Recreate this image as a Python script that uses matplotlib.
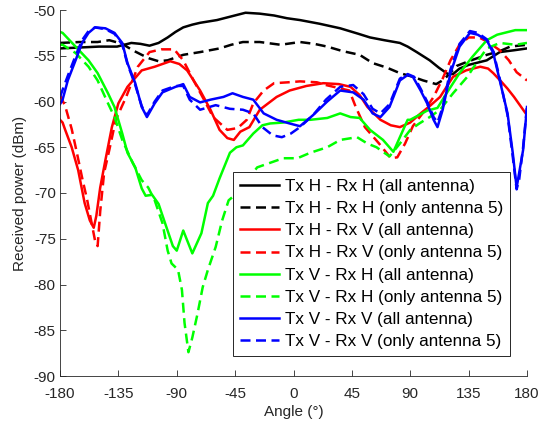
import matplotlib
matplotlib.use("Agg")
import matplotlib.pyplot as plt

plt.rcParams["font.family"] = ["Liberation Sans", "DejaVu Sans"]
plt.rcParams["axes.unicode_minus"] = False

# Tx H - Rx H (all antenna)
hh_all_ang = [-180, -165, -150, -136, -125, -118, -111, -104, -97, -91, -85, -78, -72, -59, -48,
              -37, -26, -15, -5, 5, 20, 36, 50, 59, 70, 82, 88, 95, 105, 112, 119, 123, 128,
              135, 149, 159, 170, 180]
hh_all_db = [-54.2, -54.1, -54.0, -54.0, -53.6, -53.7, -53.9, -53.6, -53.0, -52.4, -51.9, -51.6,
             -51.4, -51.1, -50.7, -50.3, -50.4, -50.6, -50.9, -51.1, -51.5, -52.0, -52.6, -53.0,
             -53.3, -53.6, -54.0, -54.6, -55.5, -56.3, -57.0, -57.0, -56.4, -56.0, -55.5, -54.6,
             -54.4, -54.2]

# Tx H - Rx H (only antenna 5)
hh_a5_ang = [-180, -165, -151, -142, -132, -124, -117, -111, -104, -97, -91, -85, -72, -57, -48,
             -39, -26, -10, 5, 16, 26, 38, 51, 61, 72, 82, 92, 100, 110, 116, 126, 135, 149,
             159, 167, 180]
hh_a5_db = [-53.6, -53.5, -53.5, -53.3, -53.7, -54.4, -54.9, -55.3, -55.6, -55.5, -55.2, -54.9,
            -54.6, -54.2, -53.8, -53.5, -53.5, -53.8, -53.5, -53.7, -54.0, -54.5, -54.9, -55.8,
            -56.3, -56.9, -57.3, -57.7, -58.1, -57.6, -56.1, -55.6, -54.9, -54.5, -54.0, -53.8]

# Tx H - Rx V (all antenna)
hv_all_ang = [-180, -178, -176, -171, -166, -161, -157, -154, -152, -149, -145, -140, -135, -128,
              -117, -107, -95, -88, -82, -72, -64, -57, -51, -46, -41, -34, -26, -13, -3, 10, 23,
              35, 44, 51, 57, 67, 75, 82, 90, 98, 105, 113, 123, 133, 144, 150, 154, 160, 165,
              170, 175, 180]
hv_all_db = [-62.0, -62.3, -63.1, -65.0, -67.5, -71.1, -73.0, -73.8, -72.5, -69.4, -66.4, -62.8,
             -60.2, -58.4, -56.6, -56.2, -55.6, -55.9, -56.6, -58.8, -60.9, -63.1, -64.0, -64.2,
             -63.3, -62.8, -60.9, -59.5, -58.8, -58.3, -58.0, -58.1, -58.4, -59.3, -60.6, -62.0,
             -62.6, -62.8, -62.3, -61.3, -60.5, -59.5, -57.3, -56.6, -56.2, -56.4, -56.9, -57.8,
             -58.6, -59.5, -60.5, -61.5]

# Tx H - Rx V (only antenna 5)
hv_a5_ang = [-180, -176, -171, -167, -163, -159, -156, -153, -151, -149, -146, -142, -137, -129,
             -120, -111, -102, -92, -85, -77, -69, -62, -51, -43, -36, -31, -23, -15, -4, 5, 18,
             25, 43, 48, 55, 66, 75, 80, 86, 92, 100, 108, 115, 121, 128, 135, 143, 150, 159,
             166, 172, 180]
hv_a5_db = [-59.3, -60.5, -63.0, -65.6, -68.3, -70.8, -73.0, -75.2, -75.8, -72.0, -67.8, -65.3,
            -62.0, -59.5, -56.2, -54.6, -54.3, -54.3, -55.5, -57.7, -59.8, -61.7, -63.1, -62.9,
            -62.0, -60.2, -58.8, -58.0, -57.9, -57.8, -57.9, -58.2, -58.8, -60.6, -62.8, -64.6,
            -66.2, -66.1, -64.6, -62.7, -61.2, -59.5, -57.5, -55.5, -53.8, -53.0, -53.0, -53.5,
            -54.4, -55.5, -56.8, -57.7]

# Tx V - Rx H (all antenna)
vh_all_ang = [-180, -178, -168, -158, -151, -143, -138, -132, -128, -122, -117, -114, -109, -104,
              -99, -93, -90, -85, -78, -71, -66, -62, -57, -49, -44, -39, -31, -24, -18, -8, 4,
              13, 26, 36, 44, 51, 59, 69, 77, 82, 88, 90, 103, 111, 118, 128, 138, 149, 157,
              171, 180]
vh_all_db = [-52.4, -52.5, -54.0, -55.5, -56.9, -59.1, -60.6, -63.5, -65.6, -67.2, -69.5, -70.3,
             -70.2, -71.2, -73.3, -75.8, -76.3, -74.1, -76.6, -74.4, -71.1, -70.3, -68.4, -65.6,
             -65.0, -64.8, -63.5, -62.6, -62.4, -62.3, -62.0, -62.0, -61.8, -61.3, -61.7, -61.8,
             -63.1, -64.2, -65.5, -63.9, -62.0, -62.0, -61.0, -60.7, -59.1, -56.9, -55.1, -53.3,
             -52.7, -52.2, -52.2]

# Tx V - Rx H (only antenna 5)
vh_a5_ang = [-180, -178, -168, -158, -151, -143, -138, -132, -124, -117, -112, -107, -101, -97,
             -94, -89, -86, -84, -81, -78, -74, -70, -66, -60, -55, -50, -45, -40, -28, -18, -8,
             3, 13, 26, 36, 49, 57, 64, 74, 82, 90, 97, 105, 113, 123, 134, 141, 149, 159, 171,
             180]
vh_a5_db = [-53.8, -53.8, -54.7, -56.2, -57.7, -60.2, -61.7, -64.2, -66.7, -68.6, -69.4, -70.8,
            -73.3, -76.3, -77.7, -78.4, -80.6, -84.2, -87.4, -85.8, -83.2, -80.3, -78.4, -75.9,
            -73.0, -70.8, -70.2, -69.4, -67.2, -66.7, -66.2, -66.2, -65.6, -65.0, -64.2, -63.9,
            -64.6, -65.0, -66.0, -64.6, -63.1, -62.4, -61.7, -60.9, -59.1, -57.3, -55.8, -54.2,
            -53.6, -53.8, -53.6]

# Tx V - Rx V (all antenna)
vv_all_ang = [-180, -178, -174, -168, -163, -158, -153, -145, -138, -132, -128, -122, -117, -113,
              -107, -101, -91, -85, -80, -72, -64, -54, -47, -39, -31, -23, -13, -3, 5, 15, 26,
              36, 46, 54, 61, 67, 74, 82, 88, 92, 98, 103, 108, 111, 115, 121, 128, 136, 142,
              149, 154, 159, 165, 169, 172, 177, 180]
vv_all_db = [-60.3, -59.8, -57.7, -55.5, -53.6, -52.5, -51.9, -52.0, -52.5, -53.6, -55.8, -58.0,
             -60.6, -61.7, -60.2, -59.0, -58.4, -58.1, -59.5, -60.1, -59.8, -59.5, -59.1, -59.5,
             -59.8, -61.3, -62.0, -62.4, -62.7, -61.5, -60.0, -58.8, -59.0, -59.8, -61.3, -61.7,
             -60.6, -57.7, -57.1, -57.3, -58.8, -60.2, -62.0, -62.8, -60.9, -56.9, -54.0, -52.5,
             -52.7, -53.3, -54.7, -57.7, -61.3, -65.6, -69.4, -65.3, -60.6]

# Tx V - Rx V (only antenna 5)
vv_a5_ang = [-180, -174, -168, -163, -158, -153, -145, -138, -132, -128, -122, -117, -113, -107,
             -101, -91, -85, -80, -72, -60, -49, -39, -31, -24, -16, -9, -2, 5, 15, 25, 36, 46,
             54, 61, 67, 74, 82, 88, 93, 98, 103, 108, 111, 115, 121, 128, 136, 142, 149, 154,
             159, 165, 169, 172, 174, 177, 180]
vv_a5_db = [-59.5, -57.2, -55.0, -53.3, -52.3, -51.9, -52.1, -52.6, -53.8, -55.9, -58.2, -60.5,
            -61.5, -60.0, -58.8, -58.3, -58.3, -59.8, -60.9, -60.4, -60.8, -60.9, -61.3, -62.8,
            -63.7, -63.9, -63.5, -62.8, -61.5, -59.8, -58.4, -58.2, -59.2, -60.8, -61.3, -60.3,
            -57.5, -57.0, -57.3, -58.6, -60.0, -61.7, -62.3, -60.6, -56.5, -53.7, -52.3, -52.5,
            -53.2, -54.5, -57.5, -61.5, -66.0, -69.6, -68.5, -65.0, -60.5]

labels = ["Tx H - Rx H (all antenna)", "Tx H - Rx H (only antenna 5)",
          "Tx H - Rx V (all antenna)", "Tx H - Rx V (only antenna 5)",
          "Tx V - Rx H (all antenna)", "Tx V - Rx H (only antenna 5)",
          "Tx V - Rx V (all antenna)", "Tx V - Rx V (only antenna 5)"]
xticks = [-180, -135, -90, -45, 0, 45, 90, 135, 180]
yticks = [-90, -85, -80, -75, -70, -65, -60, -55, -50]

series = [(hh_all_ang, hh_all_db), (hh_a5_ang, hh_a5_db),
          (hv_all_ang, hv_all_db), (hv_a5_ang, hv_a5_db),
          (vh_all_ang, vh_all_db), (vh_a5_ang, vh_a5_db),
          (vv_all_ang, vv_all_db), (vv_a5_ang, vv_a5_db)]
colors = ["k", "k", "r", "r", "#00ff00", "#00ff00", "b", "b"]
dashed = (0, (4, 2.2))

fig = plt.figure(figsize=(5.43, 4.28), dpi=100)
ax = fig.add_axes([60 / 543, 1 - 376 / 428, 467 / 543, 366 / 428])

for i, (ang, db) in enumerate(series):
    ls = "-" if i % 2 == 0 else dashed
    ax.plot(ang, db, color=colors[i], lw=1.8, linestyle=ls, label=labels[i])

ax.set_xlim(-180, 180)
ax.set_ylim(-90, -50)
ax.set_xticks(xticks)
ax.set_yticks(yticks)
ax.tick_params(direction="in", length=4, width=0.6, colors="0.15", labelsize=11, pad=3)
ax.tick_params(axis="x", pad=8)
for side in ["top", "right"]:
    ax.spines[side].set_visible(False)
for side in ["left", "bottom"]:
    ax.spines[side].set_color("0.15")
    ax.spines[side].set_linewidth(0.6)

ax.set_xlabel("Angle (°)", fontsize=11, color="0.15", labelpad=3)
ax.set_ylabel("Received power (dBm)", fontsize=11, color="0.15", labelpad=5)

leg = ax.legend(loc="upper left", bbox_to_anchor=(0.3705, 0.557), borderaxespad=0,
                fontsize=12.3, fancybox=False, edgecolor="0.15", framealpha=1,
                handlelength=2.3, labelspacing=0.42, handletextpad=0.35, borderpad=0.4)
leg.get_frame().set_linewidth(0.7)

fig.savefig("out.png", dpi=100)
